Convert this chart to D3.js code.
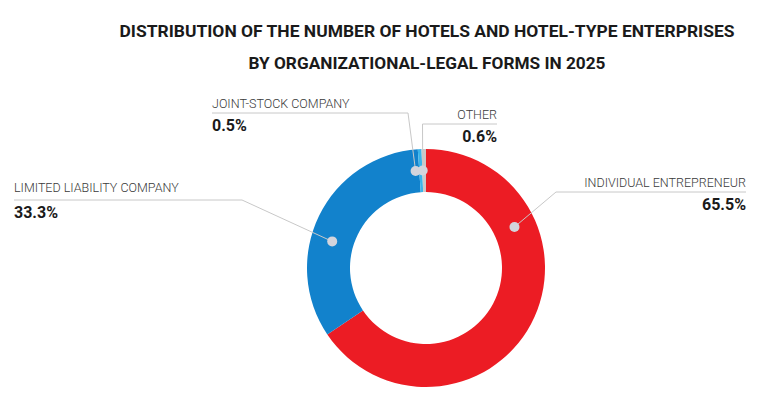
<!DOCTYPE html>
<html>
<head>
<meta charset="utf-8">
<script src="https://cdn.jsdelivr.net/npm/d3@7"></script>
<style>
  body { margin: 0; background: #fff; }
  svg { display: block; }
  .title { font-family: Roboto, sans-serif; font-weight: 700; font-size: 17px; fill: #1a1a1a; }
  .name { font-family: Roboto, sans-serif; font-weight: 300; font-size: 12.5px; fill: #3a3a3a; }
  .value { font-family: Roboto, sans-serif; font-weight: 700; font-size: 16px; fill: #1a1a1a; }
</style>
</head>
<body>
<script>
// 데이터
const titleLines = [
  'DISTRIBUTION OF THE NUMBER OF HOTELS AND HOTEL-TYPE ENTERPRISES',
  'BY ORGANIZATIONAL-LEGAL FORMS IN 2025'
];
const categories = ['INDIVIDUAL ENTREPRENEUR', 'LIMITED LIABILITY COMPANY', 'JOINT-STOCK COMPANY', 'OTHER'];
const shares = [65.5, 33.3, 0.5, 0.6];
const valueLabels = ['65.5%', '33.3%', '0.5%', '0.6%'];
const colors = ['#ec1c24', '#1282cc', '#3ab4ea', '#c9c9c9'];

const svg = d3.select(document.body)
  .append('svg').attr('width', 778).attr('height', 408);

const base = { cx: 426, cy: 268, outer: 119, inner: 76 };

// 라벨 배치 (점 위치 = 호 안의 비율, 글자 위치, 꺾이는 점)
const labelLayout = [
  { frac: 0.276, x: 746, y: 187, anchor: 'end', lineY: 192, lineFrom: 556, lineTo: 746, elbowX: 556 },
  { frac: 0.415, x: 14, y: 192, anchor: 'start', lineY: 200, lineFrom: 14, lineTo: 242, elbowX: 242 },
  { frac: -1.2, x: 212, y: 108, anchor: 'start', lineY: 113, lineFrom: 212, lineTo: 408, elbowX: 408 },
  { frac: 0.1, x: 497, y: 119, anchor: 'end', lineY: 124, lineFrom: 422.5, lineTo: 497, elbowX: 422.5 }
];

drawTitle();
drawDonut();

function drawTitle(){
  svg.selectAll('text.title')
    .data(titleLines)
    .join('text')
    .attr('class', 'title')
    .attr('x', 427)
    .attr('y', (d, i) => 37 + i * 32)
    .attr('text-anchor', 'middle')
    .attr('textLength', (d, i) => i === 0 ? 615 : 357)
    .attr('lengthAdjust', 'spacingAndGlyphs')
    .text(d => d);
}

function drawDonut(){
  const pie = d3.pie().sort(null).value(d => d)
    .startAngle(0).endAngle(2 * Math.PI);
  const arcs = pie(shares);
  const arc = d3.arc().innerRadius(base.inner).outerRadius(base.outer);

  const g = svg.append('g')
    .attr('transform', `translate(${base.cx}, ${base.cy})`);

  g.selectAll('path')
    .data(arcs)
    .join('path')
    .attr('d', arc)
    .attr('fill', (d, i) => colors[i]);

  const midR = (base.inner + base.outer) / 2;
  const dotPos = arcs.map((a, i) => {
    const ang = a.startAngle + (a.endAngle - a.startAngle) * labelLayout[i].frac;
    return [base.cx + midR * Math.sin(ang), base.cy - midR * Math.cos(ang)];
  });

  // 지시선
  svg.selectAll('polyline.leader')
    .data(labelLayout)
    .join('polyline')
    .attr('class', 'leader')
    .attr('fill', 'none')
    .attr('stroke', '#c8c8c8')
    .attr('stroke-width', 1)
    .attr('points', (d, i) => {
      const far = d.elbowX === d.lineFrom ? d.lineTo : d.lineFrom;
      return [[far, d.lineY], [d.elbowX, d.lineY], dotPos[i]].map(p => p.join(',')).join(' ');
    });

  svg.selectAll('circle.dot')
    .data(dotPos)
    .join('circle')
    .attr('class', 'dot')
    .attr('cx', d => d[0])
    .attr('cy', d => d[1])
    .attr('r', 5)
    .attr('fill', '#d3d4dc');

  svg.selectAll('text.name')
    .data(labelLayout)
    .join('text')
    .attr('class', 'name')
    .attr('x', d => d.x)
    .attr('y', d => d.y)
    .attr('text-anchor', d => d.anchor)
    .text((d, i) => categories[i]);

  svg.selectAll('text.value')
    .data(labelLayout)
    .join('text')
    .attr('class', 'value')
    .attr('x', d => d.x)
    .attr('y', d => d.lineY + 18)
    .attr('text-anchor', d => d.anchor)
    .text((d, i) => valueLabels[i]);
}
</script>
</body>
</html>
